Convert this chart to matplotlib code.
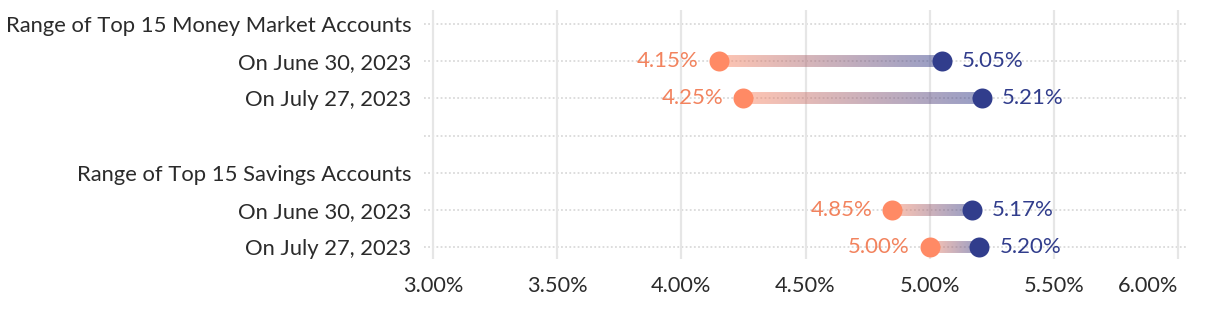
import matplotlib
matplotlib.use("Agg")
import matplotlib.pyplot as plt
import numpy as np
from matplotlib.collections import LineCollection
from matplotlib.colors import to_rgb

plt.rcParams['font.family'] = ['Lato', 'DejaVu Sans']

categories = ["Range of Top 15 Money Market Accounts", "On June 30, 2023", "On July 27, 2023", "",
              "Range of Top 15 Savings Accounts", "On June 30, 2023", "On July 27, 2023"]
low_values = [None, 4.15, 4.25, None, None, 4.85, 5.00]
high_values = [None, 5.05, 5.21, None, None, 5.17, 5.20]
x_ticks = [3.0, 3.5, 4.0, 4.5, 5.0, 5.5, 6.0]
x_tick_labels = ["3.00%", "3.50%", "4.00%", "4.50%", "5.00%", "5.50%", "6.00%"]

CORAL = "#FF8A65"
CORAL_TXT = "#F2835E"
NAVY = "#313D8C"
TXT = "#2B2B2B"

W, H = 1220, 310
fig = plt.figure(figsize=(W / 100, H / 100), dpi=100)
ax = fig.add_axes([424 / W, 51 / H, (1187 - 424) / W, (259 - 10) / H])

ax.set_xlim(2.9638, 6.0362)
ax.set_ylim(6.323, -0.377)

for s in ax.spines.values():
    s.set_visible(False)

ypos = list(range(len(categories)))
ax.set_yticks(ypos)
ax.set_yticklabels(categories, fontsize=15.8, color=TXT)
ax.set_xticks(x_ticks)
ax.set_xticklabels(x_tick_labels, fontsize=15.7, color=TXT)
ax.get_xticklabels()[-1].set_horizontalalignment('right')
ax.tick_params(axis='both', length=0)
ax.tick_params(axis='y', pad=9)
ax.tick_params(axis='x', pad=12)

ax.set_axisbelow(True)
ax.grid(axis='x', color="#E6E6E6", linewidth=1.6, linestyle='-')
for y in ypos:
    ax.axhline(y, color="#DADADA", linewidth=1.3, linestyle=(0, (1, 1.3)), zorder=0)

c0 = np.array(to_rgb(CORAL))
c1 = np.array(to_rgb(NAVY))
n = 120
for y, lo, hi in zip(ypos, low_values, high_values):
    if lo is None:
        continue
    xs = np.linspace(lo, hi, n + 1)
    segs = [[(xs[i], y), (xs[i + 1], y)] for i in range(n)]
    t = np.linspace(0, 1, n)[:, None]
    cols = c0 * (1 - t) + c1 * t
    rgba = np.hstack([cols, np.full((n, 1), 0.5)])
    lc = LineCollection(segs, colors=rgba, linewidths=8.6, capstyle='butt', zorder=2)
    ax.add_collection(lc)
    ax.plot([lo], [y], 'o', color=CORAL, markersize=14.4, markeredgewidth=0, zorder=3)
    ax.plot([hi], [y], 'o', color=NAVY, markersize=14.4, markeredgewidth=0, zorder=3)
    ax.annotate(f"{lo:.2f}%", (lo, y), xytext=(-14.4, 0), textcoords='offset points',
                ha='right', va='center', fontsize=16, color=CORAL_TXT)
    ax.annotate(f"{hi:.2f}%", (hi, y), xytext=(14.4, 0), textcoords='offset points',
                ha='left', va='center', fontsize=16, color=NAVY)

fig.savefig("out.png", dpi=100)
